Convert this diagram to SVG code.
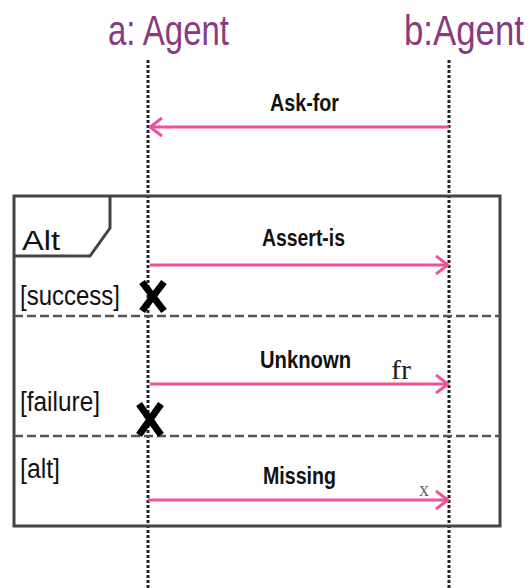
<svg xmlns="http://www.w3.org/2000/svg" width="532" height="588" viewBox="0 0 532 588">
  <style>
    .title { font-family: "Liberation Sans Narrow", "Liberation Sans", Arial, sans-serif; font-size: 35px; fill: #8a3a80; }
    .msg { font-family: "Liberation Sans Narrow", "Liberation Sans", Arial, sans-serif; font-weight: bold; font-size: 23px; fill: #111; }
    .guard { font-family: "Liberation Sans Narrow", "Liberation Sans", Arial, sans-serif; font-size: 27px; fill: #111; }
    .note { font-family: "Liberation Serif", "Times New Roman", serif; fill: #222; }
    .life { stroke: #222; stroke-width: 3; stroke-dasharray: 3 2; fill: none; }
    .sep { stroke: #555; stroke-width: 2.5; stroke-dasharray: 9 4; fill: none; }
    .frame { stroke: #444; stroke-width: 3; fill: none; }
    .call { stroke: #f0509a; stroke-width: 3; fill: none; }
    .kill { stroke: #000; stroke-width: 7; stroke-linecap: butt; }
  </style>
  <defs>
    <marker id="open" viewBox="0 0 14 20" refX="13" refY="10" markerWidth="14" markerHeight="20" markerUnits="userSpaceOnUse" orient="auto">
      <path d="M1,1 L13,10 L1,19" fill="none" stroke="#f0509a" stroke-width="3"/>
    </marker>
  </defs>

  <rect width="532" height="588" fill="#fff"/>

  <!-- lifeline a -->
  <g id="agent-a">
    <text class="title" transform="translate(108,45) scale(1,1.2)" x="0" y="0" textLength="121" lengthAdjust="spacingAndGlyphs">a: Agent</text>
    <line class="life" x1="148" y1="60" x2="148" y2="588"/>
  </g>

  <!-- lifeline b -->
  <g id="agent-b">
    <text class="title" transform="translate(404,45) scale(1,1.2)" x="0" y="0" textLength="120" lengthAdjust="spacingAndGlyphs">b:Agent</text>
    <line class="life" x1="449" y1="60" x2="449" y2="588"/>
  </g>

  <!-- combined fragment -->
  <g id="alt-frame">
    <rect class="frame" x="14" y="196" width="486" height="330"/>
    <path class="frame" d="M14,256 L90,256 L110,228 L110,196"/>
    <text class="guard" x="22" y="250" textLength="38" lengthAdjust="spacingAndGlyphs">Alt</text>
    <line class="sep" x1="14" y1="316" x2="500" y2="316"/>
    <line class="sep" x1="14" y1="436" x2="500" y2="436"/>
    <text class="guard" x="20" y="305" textLength="100" lengthAdjust="spacingAndGlyphs">[success]</text>
    <text class="guard" x="20" y="411" textLength="80" lengthAdjust="spacingAndGlyphs">[failure]</text>
    <text class="guard" x="20" y="478" textLength="40" lengthAdjust="spacingAndGlyphs">[alt]</text>
  </g>

  <!-- destruction marks -->
  <g id="end-success">
    <path class="kill" d="M142,282 L164,311 M164,282 L142,311"/>
  </g>
  <g id="end-failure">
    <path class="kill" d="M139,404 L161,435 M161,404 L139,435"/>
  </g>

  <!-- messages -->
  <g id="connectors">
    <line class="call" x1="449" y1="127" x2="150" y2="127" marker-end="url(#open)"/>
    <line class="call" x1="150" y1="265" x2="448" y2="265" marker-end="url(#open)"/>
    <line class="call" x1="150" y1="384" x2="448" y2="384" marker-end="url(#open)"/>
    <line class="call" x1="148" y1="500" x2="448" y2="500" marker-end="url(#open)"/>
  </g>

  <g id="labels">
    <text class="msg" x="270" y="111" textLength="69" lengthAdjust="spacingAndGlyphs">Ask-for</text>
    <text class="msg" x="262" y="246" textLength="83" lengthAdjust="spacingAndGlyphs">Assert-is</text>
    <text class="msg" x="260" y="368" textLength="91" lengthAdjust="spacingAndGlyphs">Unknown</text>
    <text class="msg" x="263" y="484" textLength="73" lengthAdjust="spacingAndGlyphs">Missing</text>
    <text class="note" x="391" y="379" font-size="28" textLength="20" lengthAdjust="spacingAndGlyphs">fr</text>
    <text class="note" x="419" y="496" font-size="20" fill-opacity="0.7">x</text>
  </g>
</svg>
